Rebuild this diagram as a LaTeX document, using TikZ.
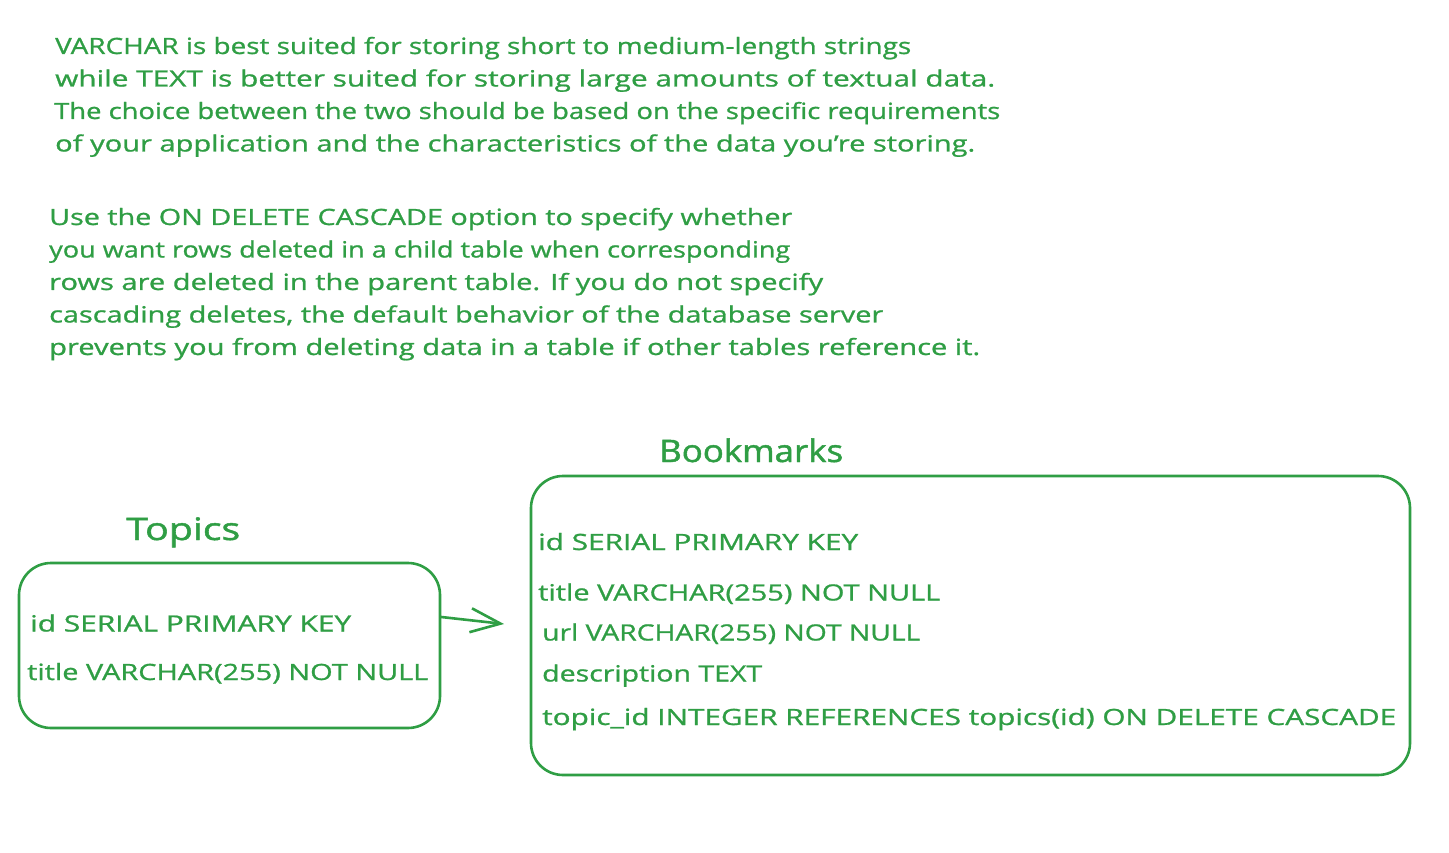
\documentclass[tikz,border=0pt]{standalone}
\usepackage{fontspec}
\usepackage{graphicx}
\setmainfont{Open Sans}[FakeBold=0.9]
\newfontfamily\titlefont{Open Sans}[FakeBold=1.4]
\usetikzlibrary{arrows.meta}
\definecolor{exgreen}{HTML}{2F9E44}
\newcommand{\fitline}[2]{\resizebox{#1}{\height}{#2}}
\tikzset{
  txt/.style={anchor=base west, inner sep=0pt, text=exgreen, font=\fontsize{22.4}{27}\selectfont},
  ttl/.style={anchor=base west, inner sep=0pt, text=exgreen, font=\titlefont\fontsize{31}{36}\selectfont},
  tbl/.style={draw=exgreen, line width=2.6pt, rounded corners=32pt, inner sep=0pt},
  conn/.style={draw=exgreen, line width=2.6pt, line cap=round, -{Straight Barb[length=30pt,width=24pt,line width=2.6pt]}}
}
\begin{document}
\begin{tikzpicture}[x=1pt,y=-1pt]
\useasboundingbox[fill=white] (0,0) rectangle (1449,853);
% paragraph 1
\node[txt] (p1a) at (55,54) {\fitline{856pt}{VARCHAR is best suited for storing short to medium-length strings}};
\node[txt] (p1b) at (55,86.5) {\fitline{940pt}{while TEXT is better suited for storing large amounts of textual data.}};
\node[txt] (p1c) at (54,119) {\fitline{946pt}{The choice between the two should be based on the specific requirements}};
\node[txt] (p1d) at (55,151.5) {\fitline{920pt}{of your application and the characteristics of the data you’re storing.}};
% paragraph 2
\node[txt] (p2a) at (49,225) {\fitline{743pt}{Use the ON DELETE CASCADE option to specify whether}};
\node[txt] (p2b) at (49,257.5) {\fitline{741pt}{you want rows deleted in a child table when corresponding}};
\node[txt] (p2c) at (49,290) {\fitline{774pt}{rows are deleted in the parent table. If you do not specify}};
\node[txt] (p2d) at (49,322.5) {\fitline{834pt}{cascading deletes, the default behavior of the database server}};
\node[txt] (p2e) at (49,355) {\fitline{931pt}{prevents you from deleting data in a table if other tables reference it.}};
% titles
\node[ttl] (tTopics) at (126,540) {\fitline{114pt}{Topics}};
\node[ttl] (tBook) at (659,462) {\fitline{184pt}{Bookmarks}};
% boxes
\node[tbl, minimum width=421pt, minimum height=165pt] (topics) at (229.5,645.5) {};
\node[tbl, minimum width=879pt, minimum height=299pt] (bookmarks) at (970.5,625.5) {};
% topics rows
\node[txt] (t1) at (30,631.5) {\fitline{321pt}{id SERIAL PRIMARY KEY}};
\node[txt] (t2) at (27,680) {\fitline{401pt}{title VARCHAR(255) NOT NULL}};
% bookmarks rows
\node[txt] (b1) at (538,550) {\fitline{320pt}{id SERIAL PRIMARY KEY}};
\node[txt] (b2) at (538,600.5) {\fitline{402pt}{title VARCHAR(255) NOT NULL}};
\node[txt] (b3) at (542,640.5) {\fitline{378pt}{url VARCHAR(255) NOT NULL}};
\node[txt] (b4) at (542,681.5) {\fitline{220pt}{description TEXT}};
\node[txt] (b5) at (542,725) {\fitline{854pt}{topic\_id INTEGER REFERENCES topics(id) ON DELETE CASCADE}};
% arrow
\coordinate (aStart) at (topics.east |- 0,617);
\coordinate (aEnd) at (504,624);
\draw[conn] (aStart) -- (aEnd);
\end{tikzpicture}
\end{document}
